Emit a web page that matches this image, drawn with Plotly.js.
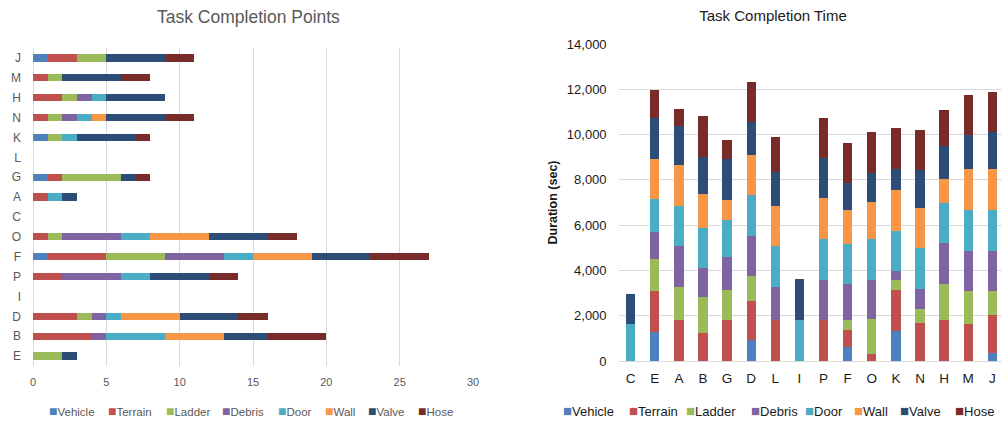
<!DOCTYPE html>
<html><head><meta charset="utf-8">
<script src="https://cdn.plot.ly/plotly-3.0.1.min.js"></script>
<style>html,body{margin:0;padding:0;background:#fff}#chart{width:1002px;height:422px}</style>
</head><body><div id="chart"></div>
<script>
// ---- data ----
const seriesNames = ['Vehicle','Terrain','Ladder','Debris','Door','Wall','Valve','Hose'];
const seriesColors = ['#4F81BD','#C0504D','#9BBB59','#8064A2','#4BACC6','#F79646','#2C4D75','#772C2A'];

// Task Completion Points (top to bottom)
const pointsTeams   = ['J','M','H','N','K','L','G','A','C','O','F','P','I','D','B','E'];
const pointsVehicle = [1,0,0,0,1,0,1,0,0,0,1,0,0,0,0,0];
const pointsTerrain = [2,1,2,1,0,0,1,1,0,1,4,2,0,3,4,0];
const pointsLadder  = [2,1,1,1,1,0,4,0,0,1,4,0,0,1,0,2];
const pointsDebris  = [0,0,1,1,0,0,0,0,0,4,4,4,0,1,1,0];
const pointsDoor    = [0,0,1,1,1,0,0,1,0,2,2,2,0,1,4,0];
const pointsWall    = [0,0,0,1,0,0,0,0,0,4,4,0,0,4,4,0];
const pointsValve   = [4,4,4,4,4,0,1,1,0,4,4,4,0,4,3,1];
const pointsHose    = [2,2,0,2,1,0,1,0,0,2,4,2,0,2,4,0];

// Task Completion Time (seconds)
const timeTeams   = ['C','E','A','B','G','D','L','I','P','F','O','K','N','H','M','J'];
const timeVehicle = [0,1300,0,0,0,920,0,0,0,610,0,1340,0,0,0,350];
const timeTerrain = [0,1790,1800,1250,1800,1720,1800,0,1800,780,320,1810,1680,1790,1650,1680];
const timeLadder  = [0,1430,1470,1570,1350,1100,0,0,0,410,1530,430,620,1630,1450,1070];
const timeDebris  = [0,1190,1790,1290,1460,1780,1470,0,1790,1600,1740,380,880,1780,1780,1780];
const timeDoor    = [1620,1460,1790,1750,1620,1820,1810,1800,1790,1780,1790,1780,1810,1760,1790,1790];
const timeWall    = [0,1770,1810,1530,900,1740,1750,0,1820,1510,1650,1820,1780,1080,1810,1810];
const timeValve   = [1320,1790,1740,1610,1790,1460,1510,1800,1750,1150,1260,910,1670,1460,1490,1630];
const timeHose    = [0,1240,710,1800,830,1760,1575,0,1790,1770,1810,1810,1780,1580,1780,1750];

const pointsSeries = [pointsVehicle,pointsTerrain,pointsLadder,pointsDebris,pointsDoor,pointsWall,pointsValve,pointsHose];
const timeSeries   = [timeVehicle,timeTerrain,timeLadder,timeDebris,timeDoor,timeWall,timeValve,timeHose];

// ---- layout helpers ----
const W = 1002, H = 422;
const fx = p => p / W;
const fy = p => 1 - p / H;
const FONT = 'Liberation Sans, Arial, sans-serif';
const GRAY = '#595959';
const DARK = '#1a1a1a';

const traces = [];
seriesNames.forEach((name, i) => {
  traces.push({
    type: 'bar', orientation: 'h', name: name,
    x: pointsSeries[i], y: pointsTeams,
    xaxis: 'x', yaxis: 'y', width: 0.37,
    marker: {color: seriesColors[i], line: {width: 0}},
    showlegend: false, hoverinfo: 'x+y+name'
  });
});
seriesNames.forEach((name, i) => {
  traces.push({
    type: 'bar', name: name,
    x: timeTeams, y: timeSeries[i],
    xaxis: 'x2', yaxis: 'y2', width: 0.385,
    marker: {color: seriesColors[i], line: {width: 0}},
    showlegend: false, hoverinfo: 'x+y+name'
  });
});

// legend entries as text (square + name)
const leftLegendX  = [47, 106, 164, 220, 276, 323, 366, 416];
const rightLegendX = [561, 627, 684, 749, 803, 852, 898, 953];
const annotations = [];
seriesNames.forEach((name, i) => {
  annotations.push({
    xref: 'paper', yref: 'paper', x: fx(leftLegendX[i]), y: fy(411),
    xanchor: 'left', yanchor: 'middle', showarrow: false,
    text: '<span style="color:' + seriesColors[i] + ';font-size:14px">\u25A0</span>' + name,
    font: {family: FONT, size: 11.5, color: GRAY}
  });
  annotations.push({
    xref: 'paper', yref: 'paper', x: fx(rightLegendX[i]), y: fy(410),
    xanchor: 'left', yanchor: 'middle', showarrow: false,
    text: '<span style="color:' + seriesColors[i] + ';font-size:15px">\u25A0</span>' + name,
    font: {family: FONT, size: 13, color: DARK}
  });
});
annotations.push({
  xref: 'paper', yref: 'paper', x: fx(248), y: fy(17),
  xanchor: 'center', yanchor: 'middle', showarrow: false,
  text: 'Task Completion Points',
  font: {family: FONT, size: 17.5, color: GRAY}
});

const layout = {
  width: W, height: H,
  margin: {l: 0, r: 0, t: 0, b: 0},
  paper_bgcolor: '#ffffff', plot_bgcolor: 'rgba(0,0,0,0)',
  font: {family: FONT, color: DARK},
  barmode: 'stack',
  showlegend: false,
  title: {
    text: 'Task Completion Time', x: fx(773), xanchor: 'center',
    y: fy(16), yanchor: 'middle', xref: 'paper', yref: 'container',
    font: {family: FONT, size: 15, color: DARK}
  },
  xaxis: {
    domain: [fx(33), fx(473)], anchor: 'y', range: [0, 30], dtick: 5,
    showgrid: true, gridcolor: '#D9D9D9', gridwidth: 1,
    zeroline: true, zerolinecolor: '#D9D9D9', zerolinewidth: 1,
    showline: false, ticks: '', ticklabelstandoff: 8,
    tickfont: {family: FONT, size: 11, color: GRAY}, fixedrange: true
  },
  yaxis: {
    domain: [fy(366), fy(48)], anchor: 'x', type: 'category',
    categoryorder: 'array', categoryarray: pointsTeams,
    range: [15.5, -0.5], showgrid: false, zeroline: false, showline: false,
    ticks: '', ticklabelstandoff: 11,
    tickfont: {family: FONT, size: 12, color: GRAY}, fixedrange: true
  },
  xaxis2: {
    domain: [fx(618.6), 1], anchor: 'y2', type: 'category',
    categoryorder: 'array', categoryarray: timeTeams,
    range: [-0.5, 15.4], showgrid: false, zeroline: false, showline: false,
    ticks: '', ticklabelstandoff: 7,
    tickfont: {family: FONT, size: 13.5, color: DARK}, fixedrange: true
  },
  yaxis2: {
    domain: [fy(361), fy(44)], anchor: 'x2', range: [0, 14000], dtick: 2000,
    tickformat: ',d', showgrid: true, gridcolor: '#D9D9D9', gridwidth: 1,
    zeroline: true, zerolinecolor: '#D9D9D9', zerolinewidth: 1,
    showline: false, ticks: '', ticklabelstandoff: 11,
    tickfont: {family: FONT, size: 13, color: DARK},
    title: {text: '<b>Duration (sec)</b>', standoff: 6,
            font: {family: FONT, size: 12.5, color: DARK}},
    fixedrange: true
  },
  annotations: annotations
};

Plotly.newPlot('chart', traces, layout, {displayModeBar: false, staticPlot: true});
</script>
</body></html>
